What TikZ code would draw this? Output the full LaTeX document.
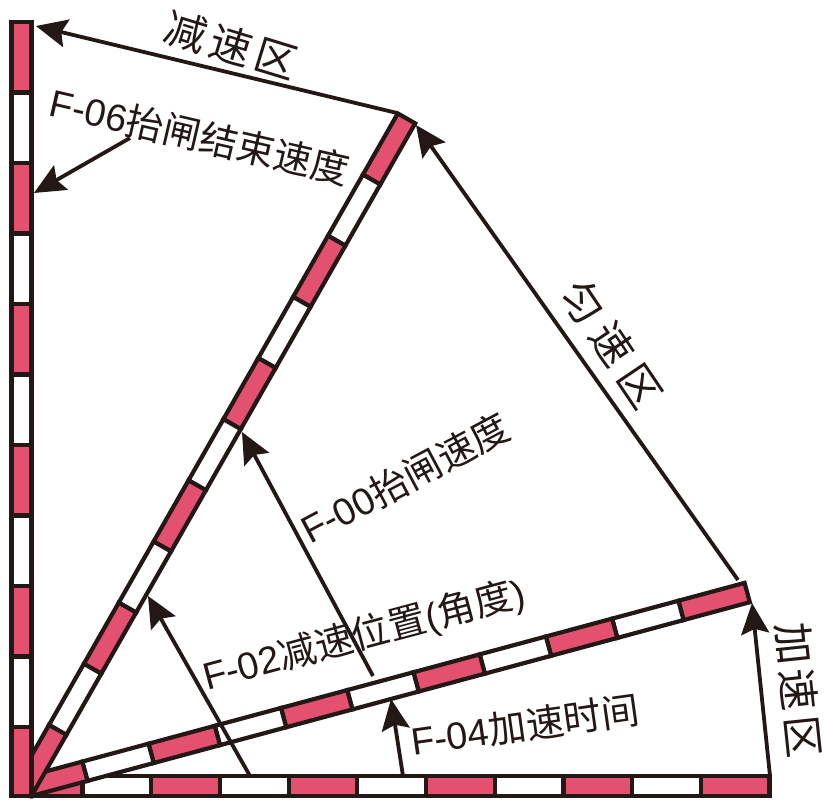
\documentclass[tikz,border=0pt]{standalone}
\usepackage{fontspec}
\setmainfont{Liberation Sans}
\newfontfamily\cjk{Noto Sans CJK SC}
\usetikzlibrary{arrows.meta}
\definecolor{ink}{HTML}{231815}
\definecolor{gatered}{HTML}{E4506F}
\tikzset{
  segred/.style={draw=ink,line width=4.2pt,fill=gatered,line join=miter},
  segwhite/.style={draw=ink,line width=4.2pt,fill=white,line join=miter},
  motion/.style={draw=ink,line width=3.8pt,-{Stealth[length=31pt,width=28pt,inset=5pt]}},
  lab/.style={inner sep=0pt,text=ink,font=\fontsize{38pt}{40pt}\selectfont},
  zone/.style={inner sep=0pt,text=ink,font=\fontsize{42pt}{44pt}\selectfont},
}
\newcommand{\zgap}{\hspace{5pt}}
% angle, first segment length, later segment length, width
\newcommand{\gatebar}[4]{%
  \begin{scope}[shift={(pivot)},rotate=#1]
    \foreach \i in {10,...,0}{%
      \pgfmathsetmacro{\sa}{\i==0 ? 0 : #2+(\i-1)*#3}%
      \pgfmathsetmacro{\sb}{#2+\i*#3}%
      \pgfmathtruncatemacro{\odd}{mod(\i,2)}%
      \ifnum\odd=0
        \draw[segred] (\sa,0) rectangle (\sb,#4);
      \else
        \draw[segwhite] (\sa,0) rectangle (\sb,#4);
      \fi
    }
  \end{scope}}
\begin{document}
\begin{tikzpicture}[x=1pt,y=1pt]
\useasboundingbox[fill=white] (0,0) rectangle (826,801);
\coordinate (pivot) at (31.5,5);
\gatebar{0}{51}{68.7}{20}
\gatebar{15.1}{58}{68.6}{20}
\gatebar{60.3}{70.4}{70.4}{20}
\gatebar{90}{69}{70.5}{20}

\coordinate (a1s) at (397,688);
\coordinate (a1e) at (36,775);
\coordinate (a2s) at (130,663);
\coordinate (a2e) at (34,608);
\coordinate (a3s) at (738,221);
\coordinate (a3e) at (416,676);
\coordinate (a4s) at (770,25);
\coordinate (a4e) at (752,198);
\coordinate (a5s) at (403,25);
\coordinate (a5e) at (391,102);
\coordinate (a6s) at (373,125);
\coordinate (a6e) at (242,369);
\coordinate (a7s) at (250,25);
\coordinate (a7e) at (148,205);
\draw[motion] (a1s) -- (a1e);
\draw[motion] (a2s) -- (a2e);
\draw[motion] (a3s) -- (a3e);
\draw[motion] (a4s) -- (a4e);
\draw[motion] (a5s) -- (a5e);
\draw[motion] (a6s) -- (a6e);
\draw[motion] (a7s) -- (a7e);

\node[zone,rotate=-17] (t1) at (231,756) {\cjk 减\zgap 速\zgap 区};
\node[lab,rotate=-13] (t2) at (200,665) {F-06\cjk 抬闸结束速度};
\node[zone,rotate=-56] (t3) at (612,457) {\cjk 匀\hspace{9pt}速\hspace{9pt}区};
\node[zone,rotate=-84] (t4) at (799,111) {\cjk 加\zgap 速\zgap 区};
\node[lab,rotate=28] (t5) at (405,323) {F-00\cjk 抬闸速度};
\node[lab,rotate=15] (t6) at (364,165) {F-02\cjk 减速位置\rmfamily (\cjk 角度\rmfamily )};
\node[lab,rotate=8] (t7) at (525,76) {F-04\cjk 加速时间};
\end{tikzpicture}
\end{document}
